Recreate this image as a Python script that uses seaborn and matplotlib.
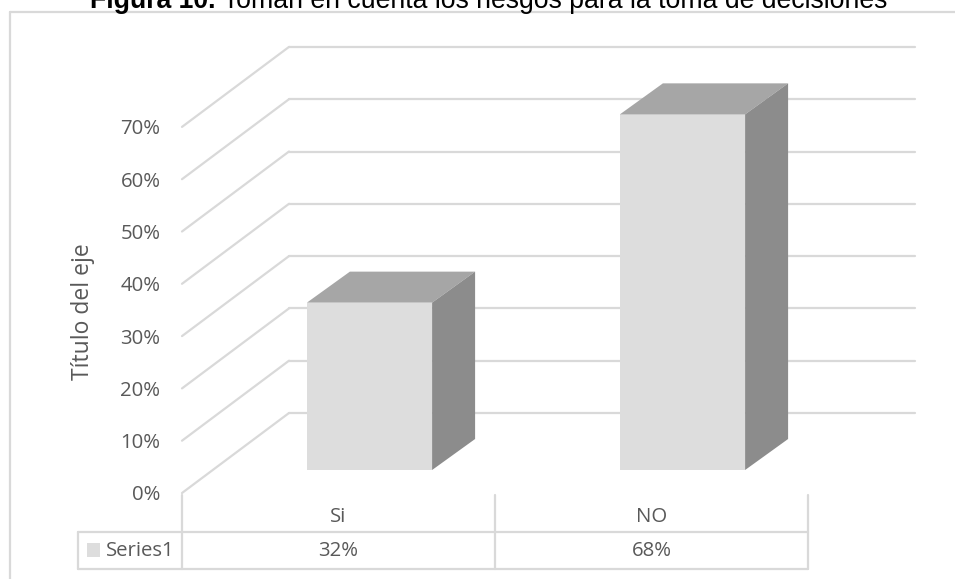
import matplotlib
matplotlib.use("Agg")
import matplotlib.pyplot as plt
import matplotlib.transforms as mtransforms
from matplotlib.lines import Line2D
from matplotlib.patches import Polygon, Rectangle
import pandas as pd
import seaborn as sns

# ---- data -------------------------------------------------------------
categories = ["Si", "NO"]
values = [32, 68]
value_labels = ["32%", "68%"]
ytick_values = [0, 10, 20, 30, 40, 50, 60, 70]
ytick_labels = ["0%", "10%", "20%", "30%", "40%", "50%", "60%", "70%"]
series_name = "Series1"
title_bold = "Figura 10."
title_rest = "Toman en cuenta los riesgos para la toma de decisiones"
axis_title = "Título del eje"

# ---- style ------------------------------------------------------------
sns.set_theme(style="white")
plt.rcParams["font.family"] = ["Open Sans", "DejaVu Sans"]

FRONT = "#dddddd"
TOP = "#a6a6a6"
SIDE = "#8c8c8c"
GRID = "#d9d9d9"
TEXT = "#595959"

W, H = 955, 579
fig = plt.figure(figsize=(W / 100, H / 100), dpi=100)


def fx(x):
    return x / W


def fy(y):
    return 1 - y / H


PX_PER_UNIT = 5.23          # vertical pixels per percentage point
VMAX = 70
plane_w = 626 / W
plane_h = VMAX * PX_PER_UNIT / H

# front edge of the floor / walls (holds the value axis labels)
ax_front = fig.add_axes([fx(182), fy(493), plane_w, plane_h])
# plane of the bars' front faces
ax = fig.add_axes([fx(213), fy(470), plane_w, plane_h])
ax_front.set_zorder(0)
ax.set_zorder(1)

for a in (ax, ax_front):
    a.set_xlim(-0.5, len(categories) - 0.5)
    a.set_ylim(0, VMAX)
    a.patch.set_visible(False)
    for s in a.spines.values():
        s.set_visible(False)

df = pd.DataFrame({"categoria": categories, "valor": values})
sns.barplot(data=df, x="categoria", y="valor", color=FRONT, saturation=1,
            width=0.4, linewidth=0, ax=ax, zorder=3)
ax.set_xlim(-0.5, len(categories) - 0.5)
ax.set_ylim(0, VMAX)
ax.set_autoscale_on(False)
ax.set_xticks([])
ax.set_yticks([])
ax.set_xlabel("")
ax.set_ylabel("")

# value axis on the front edge
ax_front.set_xticks([])
ax_front.set_yticks(ytick_values, ytick_labels)
ax_front.tick_params(axis="y", length=0, pad=15.5, labelsize=14.7,
                     labelcolor=TEXT)
ax_front.set_autoscale_on(False)

# back wall gridlines
back = mtransforms.offset_copy(ax.transData, fig=fig, x=76, y=57, units="dots")
for v in ytick_values:
    ax.plot([-0.5, len(categories) - 0.5], [v, v], transform=back,
            color=GRID, lw=1.6, zorder=1, clip_on=False)

# side wall diagonals joining front edge and back wall
ident = mtransforms.IdentityTransform()
for v in ytick_values:
    p0 = ax_front.transData.transform((-0.5, v))
    p1 = back.transform((-0.5, v))
    ax.add_line(Line2D([p0[0], p1[0]], [p0[1], p1[1]], transform=ident,
                       color=GRID, lw=1.6, zorder=1, clip_on=False))

# top and side faces of the bars
DX, DY = 43, 31
for p in ax.patches[:len(values)]:
    x0 = p.get_x()
    x1 = x0 + p.get_width()
    h = p.get_height()
    (ax0, ah), (ax1, _), (_, ab) = ax.transData.transform(
        [(x0, h), (x1, h), (x1, 0)])
    top = Polygon([(ax0, ah), (ax1, ah), (ax1 + DX, ah + DY), (ax0 + DX, ah + DY)],
                  closed=True, transform=ident, facecolor=TOP, edgecolor="none",
                  zorder=4, clip_on=False)
    side = Polygon([(ax1, ah), (ax1 + DX, ah + DY), (ax1 + DX, ab + DY), (ax1, ab)],
                   closed=True, transform=ident, facecolor=SIDE, edgecolor="none",
                   zorder=4, clip_on=False)
    ax.add_patch(top)
    ax.add_patch(side)

# ---- data table -------------------------------------------------------
colx = mtransforms.blended_transform_factory(ax_front.transData, fig.transFigure)
n = len(categories)
for xb in [i - 0.5 for i in range(n + 1)]:
    fig.add_artist(Line2D([xb, xb], [fy(495), fy(569)], transform=colx,
                          color=GRID, lw=1.6))
for yb in (532, 569):
    fig.add_artist(Line2D([fx(78), fx(808)], [fy(yb), fy(yb)],
                          transform=fig.transFigure, color=GRID, lw=1.6))
fig.add_artist(Line2D([fx(78), fx(78)], [fy(532), fy(569)],
                      transform=fig.transFigure, color=GRID, lw=1.6))

for i, (cat, lab) in enumerate(zip(categories, value_labels)):
    fig.text(i, fy(517), cat, transform=colx, ha="center", va="center",
             fontsize=14.7, color=TEXT)
    fig.text(i, fy(551), lab, transform=colx, ha="center", va="center",
             fontsize=14.7, color=TEXT)

fig.add_artist(Rectangle((fx(87), fy(557)), 13 / W, 14 / H,
                         transform=fig.transFigure, facecolor=FRONT,
                         edgecolor="none"))
fig.text(fx(106), fy(551), series_name, ha="left", va="center",
         fontsize=14.7, color=TEXT)

# axis title
fig.text(fx(83), fy(312), axis_title, rotation=90, ha="center", va="center",
         fontsize=16.5, color=TEXT)

# chart area border
fig.add_artist(Line2D([fx(9.5), fx(9.5)], [fy(12), 0], transform=fig.transFigure,
                      color=GRID, lw=1.6))
fig.add_artist(Line2D([fx(9.5), 1], [fy(12), fy(12)], transform=fig.transFigure,
                      color=GRID, lw=1.6))

# title: bold lead-in followed by regular text
renderer = fig.canvas.get_renderer()
t1 = fig.text(fx(90), fy(8), title_bold, ha="left", va="baseline",
              fontsize=19.2, fontweight="bold", family="Liberation Sans",
              color="black")
x_end = t1.get_window_extent(renderer).x1
fig.text(x_end / W, fy(8), " " + title_rest, ha="left", va="baseline",
         fontsize=19.2, family="Liberation Sans", color="black")

fig.savefig("out.png", dpi=100)
